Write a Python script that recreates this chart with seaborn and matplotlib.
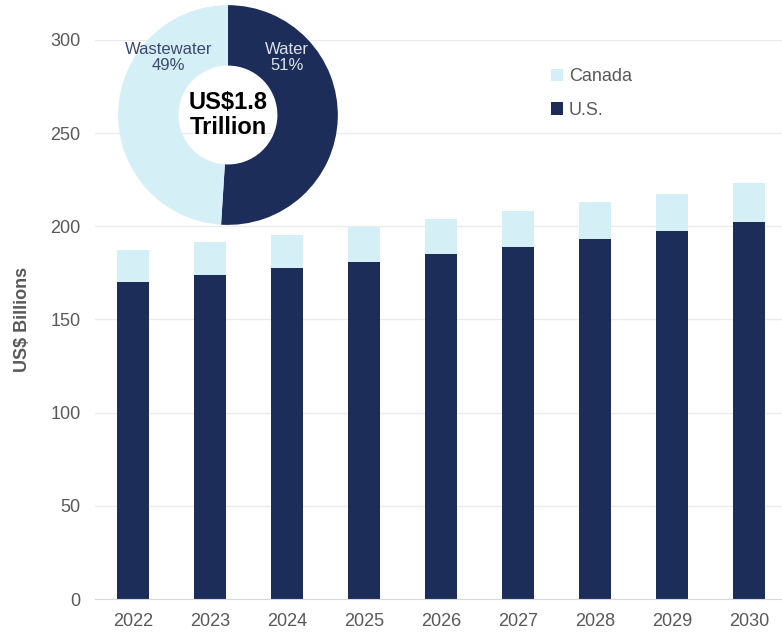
import pandas as pd
import seaborn as sns
import matplotlib.pyplot as plt

# Values (US$ billions)
years = ['2022', '2023', '2024', '2025', '2026', '2027', '2028', '2029', '2030']
us = [170, 174, 177.5, 181, 185, 189, 193, 197.5, 202.5]
canada = [17.5, 17.5, 18, 18.5, 19, 19, 20, 20, 20.5]

donut_labels = ['Water', 'Wastewater']
donut_share = [51, 49]

navy = '#1B2D58'
light = '#D5EFF7'
grey = '#595959'

sns.set_style('white')
plt.rcParams['font.family'] = ['Liberation Sans', 'DejaVu Sans']

df = pd.DataFrame({'Year': years, 'U.S.': us, 'Canada': canada})
df['Total'] = df['U.S.'] + df['Canada']

fig = plt.figure(figsize=(7.82, 6.32), dpi=100)
ax = fig.add_axes([0.121, 0.052, 0.886, 0.885])

# stacked bars: total first (Canada colour), then U.S. on top of it
sns.barplot(x='Year', y='Total', data=df, color=light, width=0.42,
            saturation=1, ax=ax, label='Canada', linewidth=0)
sns.barplot(x='Year', y='U.S.', data=df, color=navy, width=0.42,
            saturation=1, ax=ax, label='U.S.', linewidth=0)

ax.set_ylim(0, 300)
ax.set_xlim(-0.5, 8.5)
ax.set_yticks(range(0, 301, 50))
ax.yaxis.grid(True, color='#EBEBEB', linewidth=1)
ax.set_axisbelow(True)
for s in ['top', 'right', 'left']:
    ax.spines[s].set_visible(False)
ax.spines['bottom'].set_color('#D9D9D9')
ax.tick_params(axis='both', length=0, labelsize=13, colors=grey, pad=10)
ax.set_xlabel('')
ax.set_ylabel('US$ Billions', fontsize=13, fontweight='bold', color=grey, labelpad=14)

leg = ax.legend(loc='upper left', bbox_to_anchor=(0.635, 0.978), frameon=False,
                fontsize=13, handlelength=0.7, handleheight=0.7,
                handletextpad=0.3, labelspacing=0.9)
for t in leg.get_texts():
    t.set_color(grey)

# donut inset
ax2 = fig.add_axes([0.151, 0.644, 0.281, 0.348])
ax2.pie(donut_share, colors=[navy, light], startangle=90, counterclock=False,
        wedgeprops=dict(width=0.55, edgecolor='none'))
ax2.set_xlim(-1.0, 1.0)
ax2.set_ylim(-1.0, 1.0)
ax2.set_aspect('equal')
ax2.text(0.54, 0.52, f'{donut_labels[0]}\n{donut_share[0]}%', ha='center', va='center',
         fontsize=12, color='#DCE3EE', linespacing=1.1)
ax2.text(-0.54, 0.52, f'{donut_labels[1]}\n{donut_share[1]}%', ha='center', va='center',
         fontsize=12, color='#3B4A6B', linespacing=1.1)
ax2.text(0, 0, 'US$1.8\nTrillion', ha='center', va='center', fontsize=17,
         fontweight='bold', color='black', linespacing=1.15)

fig.savefig('out.png', dpi=100)
